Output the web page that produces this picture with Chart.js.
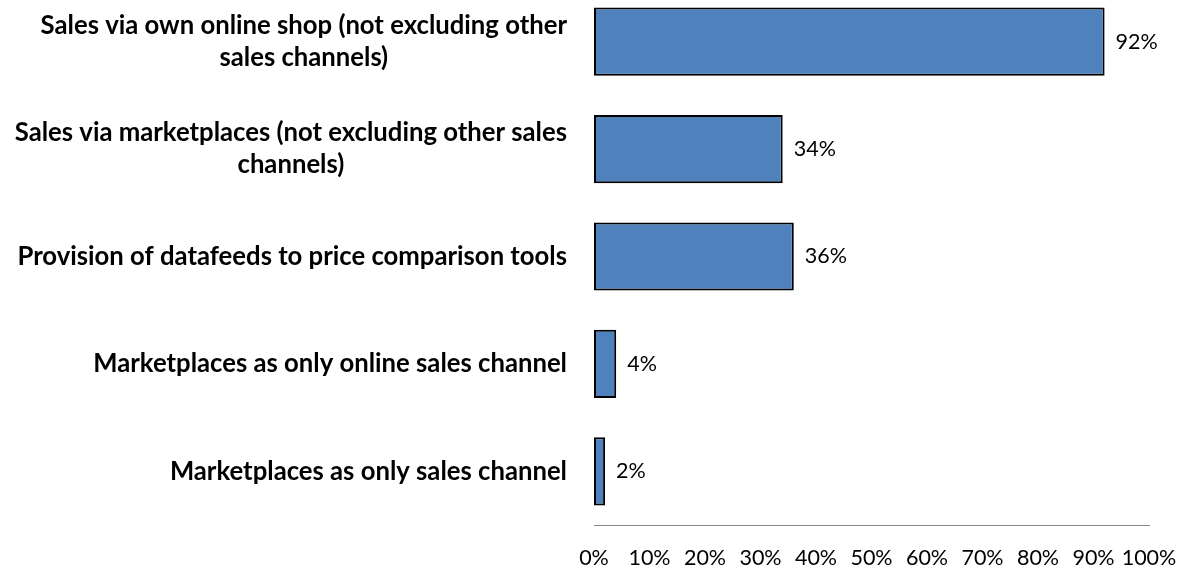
<!DOCTYPE html>
<html>
<head>
<meta charset="utf-8">
<script src="https://cdn.jsdelivr.net/npm/chart.js@4.4.1/dist/chart.umd.min.js"></script>
<style>
    html, body {
        margin: 0;
        padding: 0;
        background: #ffffff;
    }
    #wrap {
        position: relative;
        width: 1181px;
        height: 572px;
        overflow: hidden;
    }
    #chart {
        position: absolute;
        left: 0;
        top: -12px;
    }
</style>
</head>
<body>
<div id="wrap">
    <canvas id="chart" width="1181" height="584"></canvas>
</div>
<script>
// category labels, one array of lines per bar
const categories = [
    ["Sales via own online shop (not excluding other", "sales channels)"],
    ["Sales via marketplaces (not excluding other sales", "channels)"],
    ["Provision of datafeeds to price comparison tools"],
    ["Marketplaces as only online sales channel"],
    ["Marketplaces as only sales channel"],
];
const shares = [92, 34, 36, 4, 2];
const xTicks = [0, 10, 20, 30, 40, 50, 60, 70, 80, 90, 100];

// draws the bold category labels, each block right aligned, lines centred in it
const categoryLabels = {
    id: "categoryLabels",
    afterDraw(chart) {
        const ctx = chart.ctx;
        const yScale = chart.scales.y;
        const right = chart.chartArea.left - 27;
        ctx.save();
        ctx.font = "bold 25.7px Lato";
        ctx.fillStyle = "#000000";
        ctx.textAlign = "center";
        ctx.textBaseline = "middle";
        categories.forEach((lines, i) => {
            const widest = Math.max(...lines.map((l) => ctx.measureText(l).width));
            const cx = right - widest / 2;
            const cy = yScale.getPixelForValue(i);
            lines.forEach((line, j) => {
                ctx.fillText(line, cx, cy + (j - (lines.length - 1) / 2) * 32);
            });
        });
        ctx.restore();
    },
};

// value labels at the end of each bar
const valueLabels = {
    id: "valueLabels",
    afterDatasetsDraw(chart) {
        const ctx = chart.ctx;
        const meta = chart.getDatasetMeta(0);
        ctx.save();
        ctx.font = "21.5px Lato";
        ctx.fillStyle = "#000000";
        ctx.textAlign = "left";
        ctx.textBaseline = "middle";
        meta.data.forEach((bar, i) => {
            ctx.fillText(shares[i] + "%", bar.x + 11, bar.y);
        });
        ctx.restore();
    },
};

const ctx = document.getElementById("chart").getContext("2d");
new Chart(ctx, {
    type: "bar",
    data: {
        labels: categories,
        datasets: [
            {
                data: shares,
                backgroundColor: "#4f81bd",
                borderColor: "#000000",
                borderWidth: 2,
                borderSkipped: false,
                categoryPercentage: 1,
                barPercentage: 0.635,
            },
        ],
    },
    options: {
        indexAxis: "y",
        responsive: false,
        animation: false,
        layout: {
            padding: { left: 594, right: 32, top: 0, bottom: 3 },
        },
        plugins: {
            legend: { display: false },
            tooltip: { enabled: false },
        },
        scales: {
            x: {
                min: 0,
                max: 100,
                afterBuildTicks: (axis) => {
                    axis.ticks = xTicks.map((v) => ({ value: v }));
                },
                afterFit: (axis) => {
                    // fixed axis band, labels may spill into the side margins
                    axis.height = 44;
                    axis.paddingLeft = 0;
                    axis.paddingRight = 0;
                },
                grid: { display: false, drawTicks: false },
                border: { display: true, color: "#898989", width: 1 },
                ticks: {
                    padding: 20,
                    color: "#000000",
                    font: { family: "Lato", size: 21.5 },
                    maxRotation: 0,
                    autoSkip: false,
                    callback: (value) => value + "%",
                },
            },
            y: {
                grid: { display: false, drawTicks: false },
                border: { display: false },
                ticks: { display: false },
            },
        },
    },
    plugins: [categoryLabels, valueLabels],
});
</script>
</body>
</html>
